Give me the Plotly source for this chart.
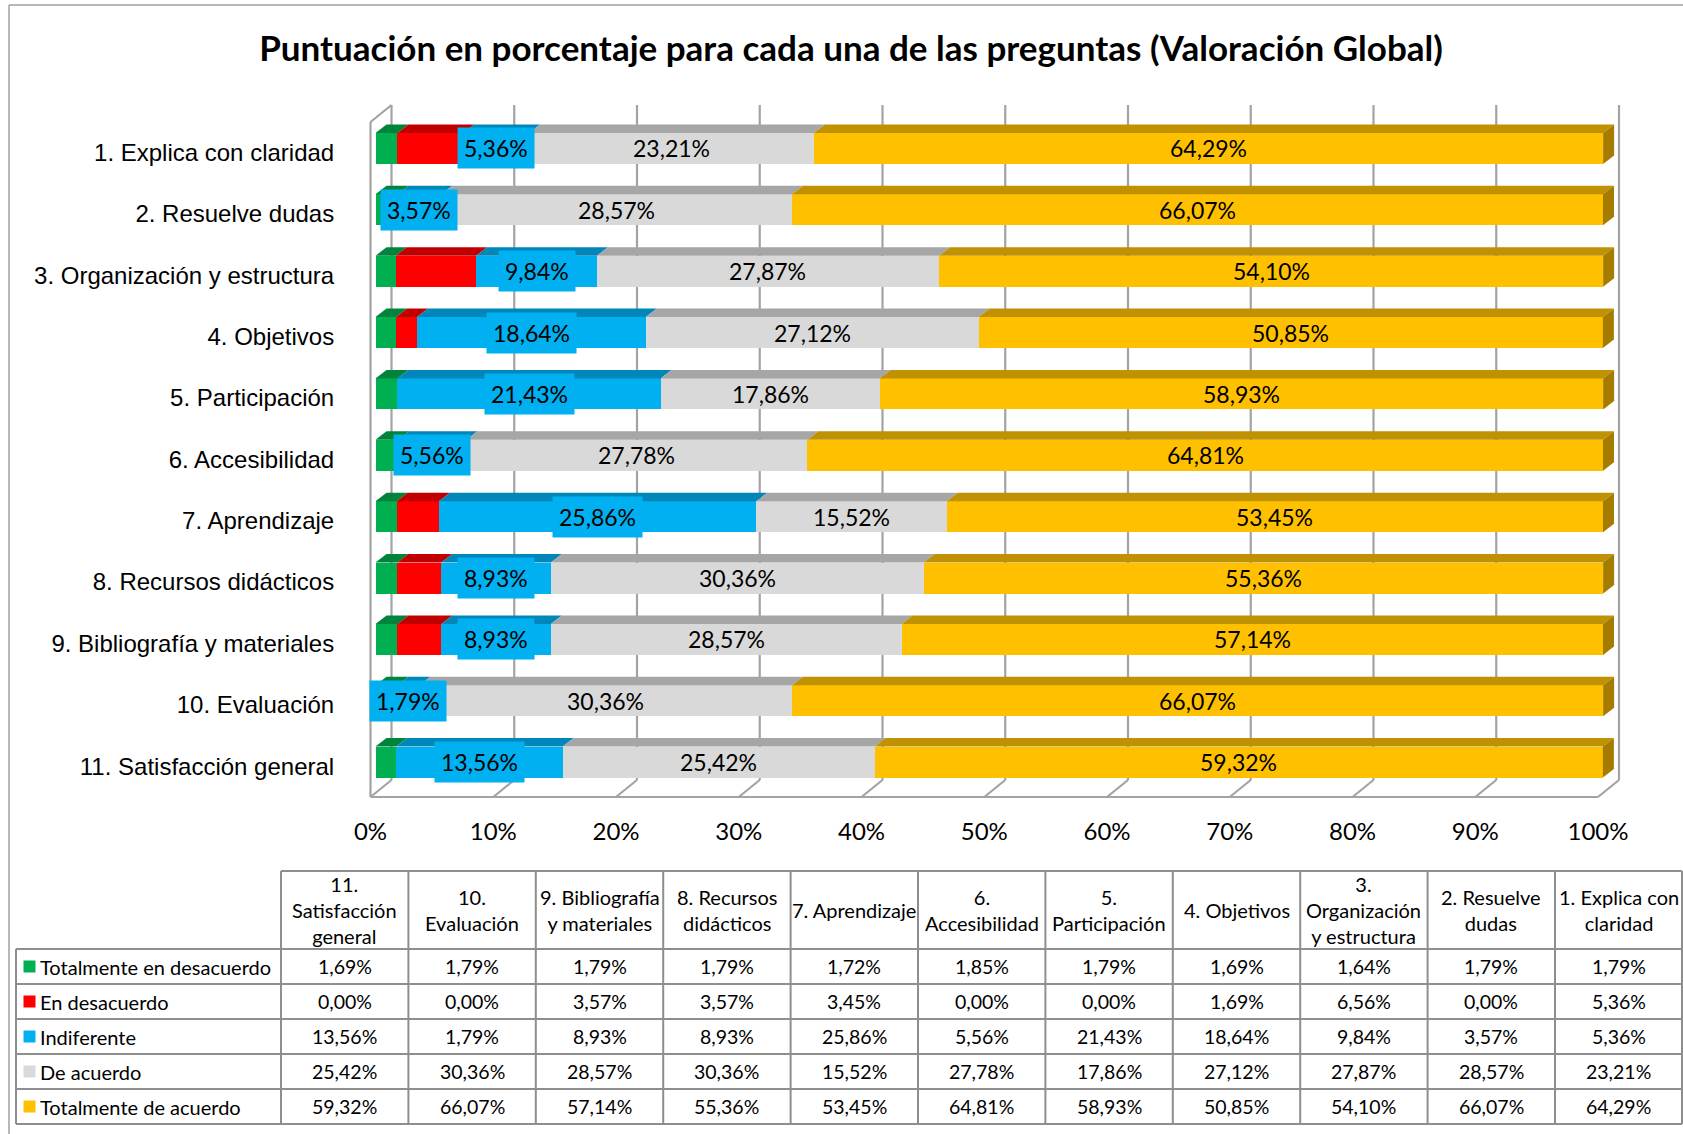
import plotly.graph_objects as go

# ---------------- data ----------------
questions = [
    "1. Explica con claridad", "2. Resuelve dudas", "3. Organización y estructura",
    "4. Objetivos", "5. Participación", "6. Accesibilidad", "7. Aprendizaje",
    "8. Recursos didácticos", "9. Bibliografía y materiales", "10. Evaluación",
    "11. Satisfacción general",
]
table_headers = [
    "1. Explica con<br>claridad", "2. Resuelve<br>dudas", "3.<br>Organización<br>y estructura",
    "4. Objetivos", "5.<br>Participación", "6.<br>Accesibilidad", "7. Aprendizaje",
    "8. Recursos<br>didácticos", "9. Bibliografía<br>y materiales", "10.<br>Evaluación",
    "11.<br>Satisfacción<br>general",
]
series_names = ["Totalmente en desacuerdo", "En desacuerdo", "Indiferente",
                "De acuerdo", "Totalmente de acuerdo"]
tot_desacuerdo = [1.79, 1.79, 1.64, 1.69, 1.79, 1.85, 1.72, 1.79, 1.79, 1.79, 1.69]
en_desacuerdo = [5.36, 0.00, 6.56, 1.69, 0.00, 0.00, 3.45, 3.57, 3.57, 0.00, 0.00]
indiferente = [5.36, 3.57, 9.84, 18.64, 21.43, 5.56, 25.86, 8.93, 8.93, 1.79, 13.56]
de_acuerdo = [23.21, 28.57, 27.87, 27.12, 17.86, 27.78, 15.52, 30.36, 28.57, 30.36, 25.42]
tot_acuerdo = [64.29, 66.07, 54.10, 50.85, 58.93, 64.81, 53.45, 55.36, 57.14, 66.07, 59.32]
x_ticks = [0, 10, 20, 30, 40, 50, 60, 70, 80, 90, 100]

series = [tot_desacuerdo, en_desacuerdo, indiferente, de_acuerdo, tot_acuerdo]
colors = ["#00B050", "#FF0000", "#00B0F0", "#D9D9D9", "#FFC000"]
top_colors = ["#00843C", "#C00000", "#0086B8", "#A6A6A6", "#C09100"]
side_color = "#A67C00"
labelled = [False, False, True, True, True]

# ---------------- geometry (pixels) ----------------
W, H = 1683, 1134
X0PX, X100PX = 375.5, 1603          # bar scale (0 % and 100 %)
PPX = (X100PX - X0PX) / 100.0
ROW0, ROWPX = 148.5, 61.36
XDOM = (362, 1630)
YDOM = (98, 800)
FRONT_TOP, FRONT_FLOOR = 122, 797
FRONT_DX = -5                       # front plane relative to bars (px)
BACK_DX, BACK_DY = 16, 17           # back wall relative to bars / front floor (px)
BAR_H = 31
BAR_DX, BAR_DY = 11, 8.5
GRID = "#A3A3A3"
FONT = "Lato"


def ux(px):  # pixel offset -> x data units
    return px / PPX


def uy(px):  # pixel offset -> y data units
    return px / ROWPX


def px_x(px):  # absolute pixel -> paper x
    return px / W


def px_y(py):  # absolute pixel -> paper y
    return 1 - py / H


x_range = [(XDOM[0] - X0PX) / PPX, (XDOM[1] - X0PX) / PPX]
y_range = [(YDOM[1] - ROW0) / ROWPX, (YDOM[0] - ROW0) / ROWPX]
YFT = (FRONT_TOP - ROW0) / ROWPX
YFF = (FRONT_FLOOR - ROW0) / ROWPX
FXu = ux(FRONT_DX)
BXu, BYu = ux(BACK_DX), uy(BACK_DY)
BW = uy(BAR_H)
DXu, DYu = ux(BAR_DX), uy(BAR_DY)

n = len(questions)
idx = list(range(n))

fig = go.Figure()

# bars
for s, name in enumerate(series_names):
    fig.add_trace(go.Bar(
        x=series[s], y=idx, orientation="h", name=name, width=BW,
        marker=dict(color=colors[s], line=dict(width=0)),
        showlegend=False, hoverinfo="x+name",
    ))

shapes = []
LW = 2.2
# back wall gridlines + floor diagonals
for v in x_ticks:
    shapes.append(dict(type="line", xref="x", yref="y", layer="below",
                       x0=v + BXu, x1=v + BXu, y0=YFT - BYu, y1=YFF - BYu,
                       line=dict(color=GRID, width=LW)))
    shapes.append(dict(type="line", xref="x", yref="y", layer="below",
                       x0=v + FXu, x1=v + BXu, y0=YFF, y1=YFF - BYu,
                       line=dict(color=GRID, width=LW)))
# floor front edge, left wall
shapes.append(dict(type="line", xref="x", yref="y", layer="below",
                   x0=x_ticks[0] + FXu, x1=x_ticks[-1] + FXu, y0=YFF, y1=YFF,
                   line=dict(color=GRID, width=LW)))
shapes.append(dict(type="line", xref="x", yref="y", layer="below",
                   x0=x_ticks[0] + FXu, x1=x_ticks[0] + FXu, y0=YFT, y1=YFF,
                   line=dict(color=GRID, width=LW)))
shapes.append(dict(type="line", xref="x", yref="y", layer="below",
                   x0=x_ticks[0] + FXu, x1=x_ticks[0] + BXu, y0=YFT, y1=YFT - BYu,
                   line=dict(color=GRID, width=LW)))

annotations = []
# 3D faces + labels
for i in idx:
    cum = 0.0
    yt = i - BW / 2
    yb = i + BW / 2
    for s in range(len(series)):
        v = series[s][i]
        x0, x1 = cum, cum + v
        if v > 0:
            shapes.append(dict(
                type="path", xref="x", yref="y", layer="above",
                path=f"M {x0},{yt} L {x0 + DXu},{yt - DYu} L {x1 + DXu},{yt - DYu} L {x1},{yt} Z",
                fillcolor=top_colors[s], line=dict(width=0)))
        if s == len(series) - 1:
            shapes.append(dict(
                type="path", xref="x", yref="y", layer="above",
                path=f"M {x1},{yt} L {x1 + DXu},{yt - DYu} L {x1 + DXu},{yb - DYu} L {x1},{yb} Z",
                fillcolor=side_color, line=dict(width=0)))
        if labelled[s]:
            txt = f"{v:.2f}".replace(".", ",") + "%"
            a = dict(x=(x0 + x1) / 2, y=i, xref="x", yref="y", text=txt,
                     showarrow=False, yshift=0,
                     font=dict(family=FONT, size=23, color="black"))
            if s == 2:
                a.update(bgcolor=colors[2], borderpad=6)
            annotations.append(a)
        cum = x1

# outer chart frame (left + top)
FRAME = "#A0A0A0"
shapes.append(dict(type="line", xref="paper", yref="paper", x0=px_x(9), x1=px_x(9),
                   y0=0, y1=px_y(5), line=dict(color=FRAME, width=1.5)))
shapes.append(dict(type="line", xref="paper", yref="paper", x0=px_x(9), x1=1,
                   y0=px_y(5), y1=px_y(5), line=dict(color=FRAME, width=1.5)))

# ---------------- data table (drawn with shapes + text) ----------------
def fmt(v):
    return f"{v:.2f}".replace(".", ",") + "%"


T_LEFT, T_LEG_R = 16, 281
COL_W = 127.4
HEAD_TOP, HEAD_BOT = 871, 949
ROW_H = 35
TGRID = "#8E8E8E"
TFONT = dict(family=FONT, size=20, color="black")
DFONT = dict(family=FONT, size=19.5, color="black")
order = list(reversed(idx))  # table columns: 11 -> 1
col_edges = [T_LEG_R + k * COL_W for k in range(n + 1)]
row_edges = [HEAD_BOT + r * ROW_H for r in range(len(series) + 1)]
T_RIGHT = min(col_edges[-1], W - 1)


def hline(y, xa, xb):
    shapes.append(dict(type="line", xref="paper", yref="paper",
                       x0=px_x(xa), x1=px_x(xb), y0=px_y(y), y1=px_y(y),
                       line=dict(color=TGRID, width=2)))


def vline(x, ya, yb):
    shapes.append(dict(type="line", xref="paper", yref="paper",
                       x0=px_x(x), x1=px_x(x), y0=px_y(ya), y1=px_y(yb),
                       line=dict(color=TGRID, width=2)))


hline(HEAD_TOP, T_LEG_R, T_RIGHT)
for y in row_edges:
    hline(y, T_LEFT, T_RIGHT)
vline(T_LEFT, row_edges[0], row_edges[-1])
for x in col_edges:
    vline(min(x, W - 1), HEAD_TOP, row_edges[-1])

# header texts
for k, q in enumerate(order):
    annotations.append(dict(
        xref="paper", yref="paper", x=px_x((col_edges[k] + col_edges[k + 1]) / 2),
        y=px_y((HEAD_TOP + HEAD_BOT) / 2), text=table_headers[q], showarrow=False,
        align="center", xanchor="center", yanchor="middle", font=TFONT))

# rows
for s in range(len(series)):
    yc = (row_edges[s] + row_edges[s + 1]) / 2
    shapes.append(dict(type="rect", xref="paper", yref="paper",
                       x0=px_x(23.5), x1=px_x(35.5), y0=px_y(yc - 6), y1=px_y(yc + 6),
                       fillcolor=colors[s], line=dict(width=0)))
    annotations.append(dict(
        xref="paper", yref="paper", x=px_x(38), y=px_y(yc), text=series_names[s],
        showarrow=False, xanchor="left", yanchor="middle", font=TFONT))
    for k, q in enumerate(order):
        annotations.append(dict(
            xref="paper", yref="paper", x=px_x((col_edges[k] + col_edges[k + 1]) / 2),
            y=px_y(yc), text=fmt(series[s][q]), showarrow=False,
            xanchor="center", yanchor="middle", font=DFONT))

fig.update_layout(
    width=W, height=H,
    margin=dict(l=0, r=0, t=0, b=0, pad=0, autoexpand=False),
    paper_bgcolor="white", plot_bgcolor="rgba(0,0,0,0)",
    barmode="stack", bargap=0,
    title=dict(text="Puntuación en porcentaje para cada una de las preguntas (Valoración Global)",
               x=px_x(851), xanchor="center", y=px_y(49), yanchor="middle", yref="container",
               font=dict(family=FONT, size=35, color="black", weight="bold")),
    xaxis=dict(domain=[XDOM[0] / W, XDOM[1] / W], range=x_range, automargin=False,
               tickvals=x_ticks, ticktext=[f"{v}%" for v in x_ticks],
               ticklabelshift=FRONT_DX,
               showgrid=False, zeroline=False, showline=False,
               ticks="outside", ticklen=10, tickcolor="rgba(0,0,0,0)",
               tickfont=dict(family=FONT, size=24, color="black"), fixedrange=True),
    yaxis=dict(domain=[1 - YDOM[1] / H, 1 - YDOM[0] / H], range=y_range, automargin=False,
               tickvals=idx, ticktext=questions, ticklabelshift=-4,
               showgrid=False, zeroline=False, showline=False,
               ticks="outside", ticklen=22, tickcolor="rgba(0,0,0,0)",
               tickfont=dict(family="Liberation Sans", size=24, color="black"), fixedrange=True),
    shapes=shapes,
    annotations=annotations,
    showlegend=False,
)

fig.write_html("out.html", config={"displayModeBar": False},
               post_script="document.body.style.margin='0';")
